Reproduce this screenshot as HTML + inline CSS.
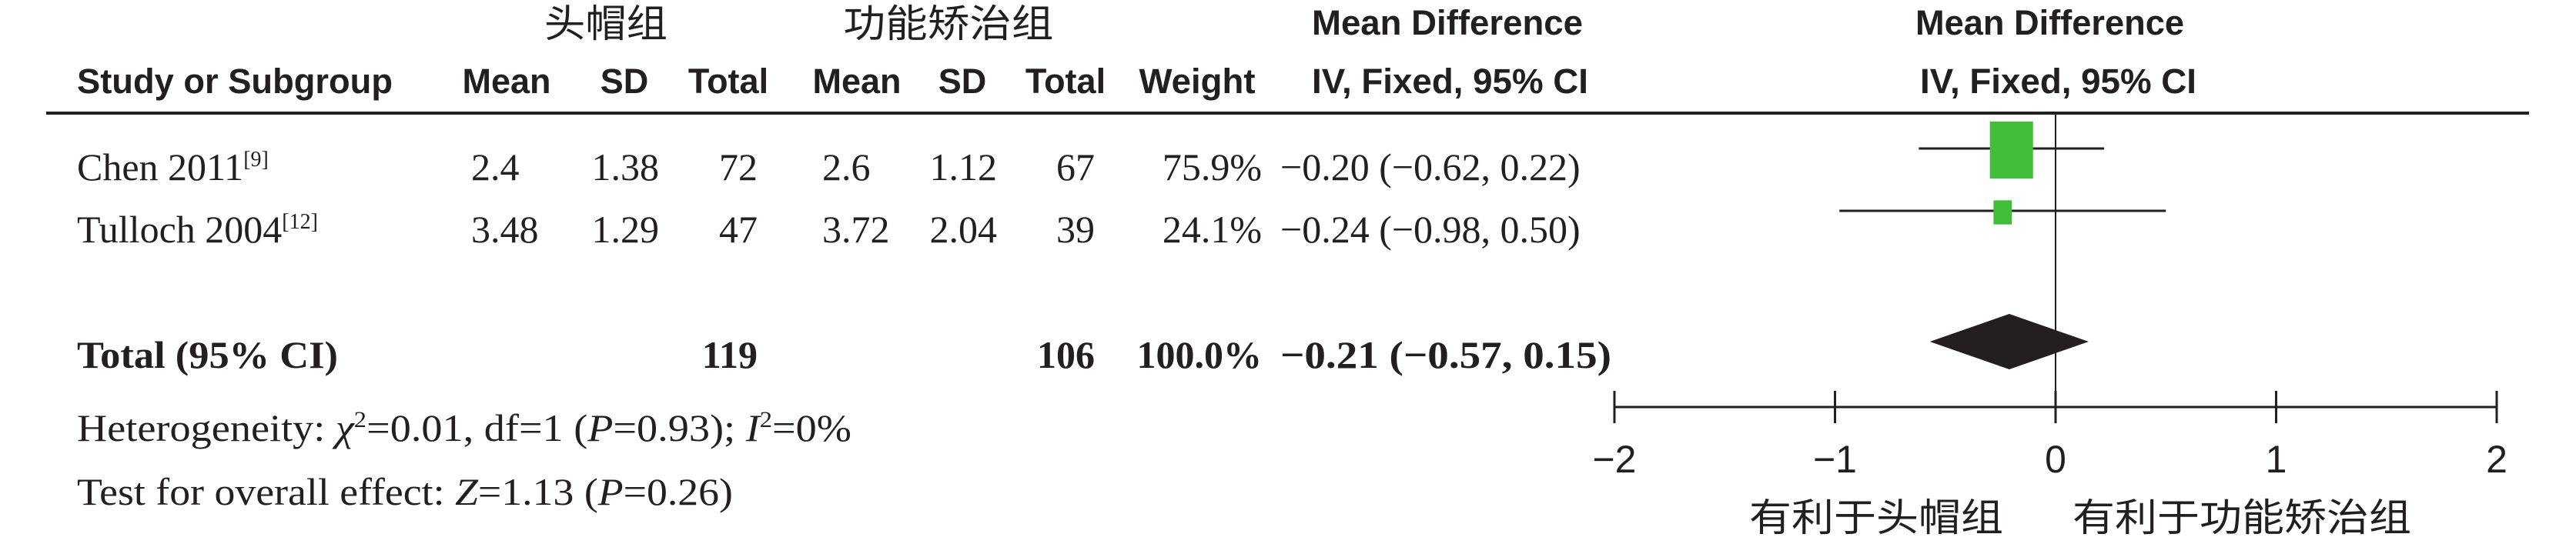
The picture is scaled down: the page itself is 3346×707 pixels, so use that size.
<!DOCTYPE html>
<html><head><meta charset="utf-8"><style>
html,body{margin:0;padding:0;background:#fff;}
svg{display:block;}
.h{font-family:"Liberation Sans","Noto Sans CJK SC",sans-serif;font-weight:bold;font-size:45px;fill:#231f20;}
.c{font-family:"Liberation Sans","Noto Sans CJK SC",sans-serif;font-size:50px;fill:#231f20;}
.s{font-family:"Liberation Serif","Noto Serif CJK SC",serif;font-size:50px;fill:#231f20;}
.b{font-weight:bold;}
</style></head><body>
<svg id="fp" width="3346" height="707" viewBox="0 0 3346 707" xmlns="http://www.w3.org/2000/svg">
<g>
<text class="c" x="787" y="48" text-anchor="middle" textLength="160" lengthAdjust="spacingAndGlyphs">头帽组</text>
<text class="c" x="1232" y="48" text-anchor="middle" textLength="273" lengthAdjust="spacingAndGlyphs">功能矫治组</text>
<text class="h" x="1704" y="45" textLength="352" lengthAdjust="spacingAndGlyphs">Mean Difference</text>
<text class="h" x="2488" y="45" textLength="349" lengthAdjust="spacingAndGlyphs">Mean Difference</text>
</g>
<g>
<text class="h" x="100" y="121" textLength="410" lengthAdjust="spacingAndGlyphs">Study or Subgroup</text>
<text class="h" x="658" y="121" text-anchor="middle">Mean</text>
<text class="h" x="811" y="121" text-anchor="middle">SD</text>
<text class="h" x="946" y="121" text-anchor="middle">Total</text>
<text class="h" x="1113" y="121" text-anchor="middle">Mean</text>
<text class="h" x="1250" y="121" text-anchor="middle">SD</text>
<text class="h" x="1384" y="121" text-anchor="middle">Total</text>
<text class="h" x="1555" y="121" text-anchor="middle" textLength="151" lengthAdjust="spacingAndGlyphs">Weight</text>
<text class="h" x="1704" y="121" textLength="359" lengthAdjust="spacingAndGlyphs">IV, Fixed, 95% CI</text>
<text class="h" x="2494" y="121" textLength="359" lengthAdjust="spacingAndGlyphs">IV, Fixed, 95% CI</text>
</g>
<line x1="60" y1="147" x2="3285" y2="147" stroke="#231f20" stroke-width="4"/>
<g id="rows"></g>
<g id="plot"></g>
<text class="s b" x="100" y="478" textLength="339" lengthAdjust="spacingAndGlyphs">Total (95% CI)</text>
<text class="s b" x="984" y="478" text-anchor="end">119</text>
<text class="s b" x="1422" y="478" text-anchor="end">106</text>
<text class="s b" x="1639" y="478" text-anchor="end">100.0%</text>
<text class="s b" x="1663" y="478" textLength="430" lengthAdjust="spacingAndGlyphs">−0.21 (−0.57, 0.15)</text>
<text class="s" x="100" y="573" textLength="1006" lengthAdjust="spacingAndGlyphs">Heterogeneity: <tspan font-style="italic">χ</tspan><tspan dy="-18" font-size="30">2</tspan><tspan dy="18">=0.01, df=1 (</tspan><tspan font-style="italic">P</tspan>=0.93); <tspan font-style="italic">I</tspan><tspan dy="-18" font-size="30">2</tspan><tspan dy="18">=0%</tspan></text>
<text class="s" x="100" y="656" textLength="852" lengthAdjust="spacingAndGlyphs">Test for overall effect: <tspan font-style="italic">Z</tspan>=1.13 (<tspan font-style="italic">P</tspan>=0.26)</text>
<text class="c" x="2272" y="690" textLength="330" lengthAdjust="spacingAndGlyphs">有利于头帽组</text>
<text class="c" x="2692" y="690" textLength="440" lengthAdjust="spacingAndGlyphs">有利于功能矫治组</text>
</svg>
<script>
const studies = ["Chen 2011", "Tulloch 2004"];
const refs = ["[9]", "[12]"];
const mean1 = ["2.4", "3.48"];
const sd1 = ["1.38", "1.29"];
const n1 = ["72", "47"];
const mean2 = ["2.6", "3.72"];
const sd2 = ["1.12", "2.04"];
const n2 = ["67", "39"];
const weights = [75.9, 24.1];
const md = [-0.20, -0.24];
const lo = [-0.62, -0.98];
const hi = [0.22, 0.50];
const totalMd = -0.21;
const totalLo = -0.57;
const totalHi = 0.15;
const ticks = [-2, -1, 0, 1, 2];
const tickLabels = ["−2", "−1", "0", "1", "2"];

const NS = "http://www.w3.org/2000/svg";
const X0 = 2670, PX = 286.5;
function xs(v){ return X0 + v * PX; }
const rowY = [234, 315];
function mk(tag, attrs, parent){
  const e = document.createElementNS(NS, tag);
  for (const k in attrs) e.setAttribute(k, attrs[k]);
  parent.appendChild(e); return e;
}
function fmt(v){ return (v<0?"−":"") + Math.abs(v).toFixed(2); }
const rows = document.getElementById("rows");
const plot = document.getElementById("plot");
studies.forEach((s, i) => {
  const y = rowY[i];
  const t = mk("text", {class:"s", x:100, y:y}, rows);
  
  
  t.textContent = s;
  const sup = mk("tspan", {dy:-18, "font-size":28}, t);
  sup.textContent = refs[i];
  const cols = [[mean1[i],612,"start"],[sd1[i],856,"end"],[n1[i],984,"end"],[mean2[i],1068,"start"],[sd2[i],1295,"end"],[n2[i],1422,"end"],[weights[i].toFixed(1)+"%",1639,"end"],[fmt(md[i])+" ("+fmt(lo[i])+", "+fmt(hi[i])+")",1663,"start"]];
  cols.forEach(c => {
    const e = mk("text", {class:"s", x:c[1], y:y, "text-anchor":c[2]}, rows);
    
    
    e.textContent = c[0];
  });
  const cy = y - 41;
  const l = mk("line", {x1:xs(lo[i]), x2:xs(hi[i]), y1:cy, y2:cy, stroke:"#231f20", "stroke-width":3}, plot);
  
  
  const f = Math.pow(weights[i], 0.75);
  const w = 2.18 * f, h = 2.88 * f;
  const r = mk("rect", {x:xs(md[i]) - w/2, y:cy - h/2 + 2, width:w, height:h, fill:"#42bd3a"}, plot);
  
  
});
const dy = 444;
const d = mk("polygon", {points:`${xs(totalLo)},${dy} ${xs(totalMd)},${dy-36} ${xs(totalHi)},${dy} ${xs(totalMd)},${dy+36}`, fill:"#231f20"}, plot);


const z = mk("line", {x1:xs(0), x2:xs(0), y1:147, y2:550, stroke:"#231f20", "stroke-width":2}, plot);


const ax = mk("line", {x1:xs(ticks[0]), x2:xs(ticks[ticks.length-1]), y1:529, y2:529, stroke:"#231f20", "stroke-width":3}, plot);


ticks.forEach((v, i) => {
  const tk = mk("line", {x1:xs(v), x2:xs(v), y1:508, y2:550, stroke:"#231f20", "stroke-width":3}, plot);
  
  
  const tl = mk("text", {class:"c", x:xs(v), y:614, "text-anchor":"middle", "font-size":46}, plot);
  
  
  tl.textContent = tickLabels[i];
});
</script>
</body></html>
